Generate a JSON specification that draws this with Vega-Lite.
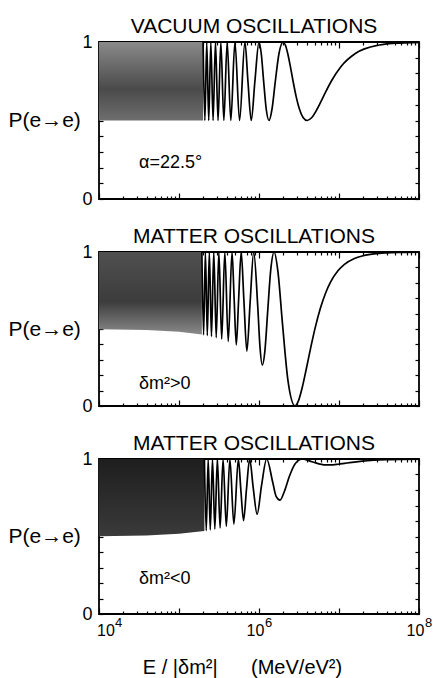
{
  "$schema": "https://vega.github.io/schema/vega-lite/v6.json",
  "padding": {"left": 7, "top": 15, "right": 2, "bottom": 2},
  "spacing": 53,
  "bounds": "flush",
  "background": "white",
  "config": {
    "view": {"stroke": "black", "strokeWidth": 1.8},
    "axis": {"grid": false, "domain": false, "labelFont": "Liberation Sans", "titleFont": "Liberation Sans", "labelColor": "black", "titleColor": "black", "tickColor": "black", "tickWidth": 1.2, "labelFlush": false, "labelOverlap": false, "titleFontWeight": "normal"},
    "title": {"font": "Liberation Sans", "fontSize": 21, "fontWeight": "normal", "color": "black", "baseline": "alphabetic", "offset": -4, "dx": -5},
    "text": {"font": "Liberation Sans", "fontSize": 18, "color": "black"}
  },
  "datasets": {
    "vacBand": [{"E": 10000, "P": 0.5}, {"E": 200000, "P": 0.5}],
    "mpBand": [{"E": 10000, "P": 0.498}, {"E": 39000, "P": 0.493}, {"E": 100000, "P": 0.4815}, {"E": 193100, "P": 0.464}],
    "mmBand": [{"E": 10000, "P": 0.5017}, {"E": 39000, "P": 0.507}, {"E": 100000, "P": 0.5177}, {"E": 207700, "P": 0.536}],
    "vac": [
      {"E": 200000, "P": 1}, {"E": 210526, "P": 0.5}, {"E": 222222, "P": 1}, {"E": 235294, "P": 0.5},
      {"E": 250000, "P": 1}, {"E": 266667, "P": 0.5}, {"E": 285714, "P": 1}, {"E": 307692, "P": 0.5},
      {"E": 333333, "P": 1}, {"E": 363636, "P": 0.5}, {"E": 400000, "P": 1}, {"E": 444444, "P": 0.5},
      {"E": 500000, "P": 1}, {"E": 571429, "P": 0.5}, {"E": 666667, "P": 1}, {"E": 727273, "P": 0.75},
      {"E": 800000, "P": 0.5}, {"E": 888889, "P": 0.75}, {"E": 1000000, "P": 1}, {"E": 1066667, "P": 0.9268},
      {"E": 1142857, "P": 0.75}, {"E": 1230769, "P": 0.5732}, {"E": 1333333, "P": 0.5}, {"E": 1454545, "P": 0.5732},
      {"E": 1600000, "P": 0.75}, {"E": 1777778, "P": 0.9268}, {"E": 2000000, "P": 1}, {"E": 2133333, "P": 0.981},
      {"E": 2285714, "P": 0.9268}, {"E": 2461538, "P": 0.846}, {"E": 2666667, "P": 0.75}, {"E": 2909091, "P": 0.654},
      {"E": 3200000, "P": 0.5732}, {"E": 3555556, "P": 0.519}, {"E": 4000000, "P": 0.5}, {"E": 4571429, "P": 0.519},
      {"E": 5333333, "P": 0.5732}, {"E": 6400000, "P": 0.654}, {"E": 8000000, "P": 0.75}, {"E": 10666667, "P": 0.846},
      {"E": 16000000, "P": 0.9268}, {"E": 32000000, "P": 0.981}, {"E": 50000000, "P": 0.9921}, {"E": 100000000, "P": 0.998}
    ],
    "mp": [
      {"E": 193100, "P": 1}, {"E": 202900, "P": 0.4619}, {"E": 213800, "P": 1}, {"E": 225800, "P": 0.4574},
      {"E": 239400, "P": 1}, {"E": 254600, "P": 0.4517}, {"E": 272000, "P": 1}, {"E": 291900, "P": 0.4443},
      {"E": 314900, "P": 1}, {"E": 341800, "P": 0.4342}, {"E": 373900, "P": 1}, {"E": 412500, "P": 0.4197},
      {"E": 460200, "P": 1}, {"E": 488400, "P": 0.7019}, {"E": 520300, "P": 0.397}, {"E": 556700, "P": 0.6946},
      {"E": 598700, "P": 1}, {"E": 647500, "P": 0.6847}, {"E": 705200, "P": 0.3565}, {"E": 774200, "P": 0.6705},
      {"E": 858600, "P": 1}, {"E": 964000, "P": 0.6487}, {"E": 1027400, "P": 0.3876}, {"E": 1100000, "P": 0.2655},
      {"E": 1184200, "P": 0.3561}, {"E": 1283000, "P": 0.6112}, {"E": 1401000, "P": 0.8821}, {"E": 1545000, "P": 1},
      {"E": 1725900, "P": 0.8716}, {"E": 1962700, "P": 0.5385}, {"E": 2295200, "P": 0.17}, {"E": 2821000, "P": 0.0009},
      {"E": 3120000, "P": 0.0349}, {"E": 3510000, "P": 0.1304}, {"E": 3900000, "P": 0.2403}, {"E": 4485000, "P": 0.3918},
      {"E": 5070000, "P": 0.5137}, {"E": 5850000, "P": 0.634}, {"E": 6825000, "P": 0.7353}, {"E": 7800000, "P": 0.8021},
      {"E": 9750000, "P": 0.8794}, {"E": 11700000, "P": 0.9199}, {"E": 15600000, "P": 0.9579}, {"E": 19500000, "P": 0.9743},
      {"E": 27300000, "P": 0.9877}, {"E": 39000000, "P": 0.9943}, {"E": 58500000, "P": 0.9976}, {"E": 100000000, "P": 0.9992}
    ],
    "mm": [
      {"E": 207700, "P": 1}, {"E": 219000, "P": 0.5381}, {"E": 231700, "P": 1}, {"E": 246000, "P": 0.5426},
      {"E": 262100, "P": 1}, {"E": 280500, "P": 0.5483}, {"E": 301700, "P": 1}, {"E": 326400, "P": 0.5557},
      {"E": 355400, "P": 1}, {"E": 390200, "P": 0.5658}, {"E": 432500, "P": 1}, {"E": 485100, "P": 0.5803},
      {"E": 552300, "P": 1}, {"E": 593400, "P": 0.7981}, {"E": 641300, "P": 0.603}, {"E": 697500, "P": 0.8054},
      {"E": 764700, "P": 1}, {"E": 846200, "P": 0.8153}, {"E": 947400, "P": 0.6435}, {"E": 1076000, "P": 0.8295},
      {"E": 1247000, "P": 1}, {"E": 1482000, "P": 0.8513}, {"E": 1637000, "P": 0.7589}, {"E": 1830000, "P": 0.7345},
      {"E": 2075000, "P": 0.7903}, {"E": 2399000, "P": 0.8888}, {"E": 2847000, "P": 0.9715}, {"E": 3512000, "P": 1},
      {"E": 4611000, "P": 0.982}, {"E": 6804000, "P": 0.9616}, {"E": 7800000, "P": 0.9616}, {"E": 9750000, "P": 0.9661},
      {"E": 11700000, "P": 0.9717}, {"E": 13650000, "P": 0.9766}, {"E": 19500000, "P": 0.9861}, {"E": 27300000, "P": 0.992},
      {"E": 39000000, "P": 0.9958}, {"E": 58500000, "P": 0.998}, {"E": 100000000, "P": 0.9993}
    ]
  },
  "vconcat": [
    {
      "width": 320, "height": 157,
      "title": {"text": "VACUUM OSCILLATIONS"},
      "layer": [
        {
          "data": {"name": "vacBand"},
          "mark": {"type": "area", "color": {"gradient": "linear", "x1": 0, "y1": 0, "x2": 0, "y2": 1, "stops": [{"offset": 0, "color": "#8a8a8a"}, {"offset": 0.6, "color": "#4a4a4a"}, {"offset": 1, "color": "#6e6e6e"}]}},
          "encoding": {
            "x": {"field": "E", "type": "quantitative", "scale": {"type": "log", "domain": [10000, 100000000], "nice": false},
                  "axis": {"orient": "bottom", "values": [10000,20000,30000,40000,50000,60000,70000,80000,90000,100000,200000,300000,400000,500000,600000,700000,800000,900000,1000000,2000000,3000000,4000000,5000000,6000000,7000000,8000000,9000000,10000000,20000000,30000000,40000000,50000000,60000000,70000000,80000000,90000000,100000000],
                           "tickSize": {"condition": {"test": "indexof([10000,100000,1000000,10000000,100000000], datum.value) >= 0", "value": -6}, "value": -3}, "labels": false, "title": null}},
            "y": {"field": "P", "type": "quantitative", "scale": {"domain": [0, 1], "nice": false},
                  "axis": {"orient": "left", "values": [0,0.1,0.2,0.3,0.4,0.5,0.6,0.7,0.8,0.9,1], "tickSize": -4, "labelExpr": "datum.value == 0 ? '0' : datum.value == 1 ? '1' : ''", "labelFontSize": 18, "labelPadding": 11,
                           "title": "P(e→e)", "titleAngle": 0, "titleAlign": "left", "titleBaseline": "middle", "titleX": -91, "titleY": 78, "titleFontSize": 21}},
            "y2": {"datum": 1}
          }
        },
        {
          "data": {"name": "vac"},
          "mark": {"type": "line", "color": "black", "strokeWidth": 1.7, "interpolate": "monotone"},
          "encoding": {
            "x": {"field": "E", "type": "quantitative", "scale": {"type": "log", "domain": [10000, 100000000], "nice": false},
                  "axis": {"orient": "top", "values": [10000,20000,30000,40000,50000,60000,70000,80000,90000,100000,200000,300000,400000,500000,600000,700000,800000,900000,1000000,2000000,3000000,4000000,5000000,6000000,7000000,8000000,9000000,10000000,20000000,30000000,40000000,50000000,60000000,70000000,80000000,90000000,100000000],
                           "tickSize": {"condition": {"test": "indexof([10000,100000,1000000,10000000,100000000], datum.value) >= 0", "value": -6}, "value": -3}, "labels": false, "title": null}},
            "y": {"field": "P", "type": "quantitative", "scale": {"domain": [0, 1], "nice": false},
                  "axis": {"orient": "right", "values": [0,0.1,0.2,0.3,0.4,0.5,0.6,0.7,0.8,0.9,1], "tickSize": -4, "labels": false, "title": null}}
          }
        },
        {
          "data": {"values": [{"label": "α=22.5°", "E": 31623, "P": 0.2}]},
          "mark": {"type": "text", "align": "left", "baseline": "alphabetic"},
          "encoding": {
            "x": {"field": "E", "type": "quantitative", "scale": {"type": "log", "domain": [10000, 100000000], "nice": false}, "axis": null},
            "y": {"field": "P", "type": "quantitative", "scale": {"domain": [0, 1], "nice": false}, "axis": null},
            "text": {"field": "label"}
          }
        }
      ],
      "resolve": {"axis": {"x": "independent", "y": "independent"}}
    },
    {
      "width": 320, "height": 154,
      "title": {"text": "MATTER OSCILLATIONS"},
      "layer": [
        {
          "data": {"name": "mpBand"},
          "mark": {"type": "area", "color": {"gradient": "linear", "x1": 0, "y1": 0, "x2": 0, "y2": 1, "stops": [{"offset": 0, "color": "#505050"}, {"offset": 0.6, "color": "#3c3c3c"}, {"offset": 1, "color": "#8a8a8a"}]}},
          "encoding": {
            "x": {"field": "E", "type": "quantitative", "scale": {"type": "log", "domain": [10000, 100000000], "nice": false},
                  "axis": {"orient": "bottom", "values": [10000,20000,30000,40000,50000,60000,70000,80000,90000,100000,200000,300000,400000,500000,600000,700000,800000,900000,1000000,2000000,3000000,4000000,5000000,6000000,7000000,8000000,9000000,10000000,20000000,30000000,40000000,50000000,60000000,70000000,80000000,90000000,100000000],
                           "tickSize": {"condition": {"test": "indexof([10000,100000,1000000,10000000,100000000], datum.value) >= 0", "value": -6}, "value": -3}, "labels": false, "title": null}},
            "y": {"field": "P", "type": "quantitative", "scale": {"domain": [0, 1], "nice": false},
                  "axis": {"orient": "left", "values": [0,0.1,0.2,0.3,0.4,0.5,0.6,0.7,0.8,0.9,1], "tickSize": -4, "labelExpr": "datum.value == 0 ? '0' : datum.value == 1 ? '1' : ''", "labelFontSize": 18, "labelPadding": 11,
                           "title": "P(e→e)", "titleAngle": 0, "titleAlign": "left", "titleBaseline": "middle", "titleX": -91, "titleY": 77, "titleFontSize": 21}},
            "y2": {"datum": 1}
          }
        },
        {
          "data": {"name": "mp"},
          "mark": {"type": "line", "color": "black", "strokeWidth": 1.7, "interpolate": "monotone"},
          "encoding": {
            "x": {"field": "E", "type": "quantitative", "scale": {"type": "log", "domain": [10000, 100000000], "nice": false},
                  "axis": {"orient": "top", "values": [10000,20000,30000,40000,50000,60000,70000,80000,90000,100000,200000,300000,400000,500000,600000,700000,800000,900000,1000000,2000000,3000000,4000000,5000000,6000000,7000000,8000000,9000000,10000000,20000000,30000000,40000000,50000000,60000000,70000000,80000000,90000000,100000000],
                           "tickSize": {"condition": {"test": "indexof([10000,100000,1000000,10000000,100000000], datum.value) >= 0", "value": -6}, "value": -3}, "labels": false, "title": null}},
            "y": {"field": "P", "type": "quantitative", "scale": {"domain": [0, 1], "nice": false},
                  "axis": {"orient": "right", "values": [0,0.1,0.2,0.3,0.4,0.5,0.6,0.7,0.8,0.9,1], "tickSize": -4, "labels": false, "title": null}}
          }
        },
        {
          "data": {"values": [{"label": "δm²>0", "E": 31623, "P": 0.11}]},
          "mark": {"type": "text", "align": "left", "baseline": "alphabetic"},
          "encoding": {
            "x": {"field": "E", "type": "quantitative", "scale": {"type": "log", "domain": [10000, 100000000], "nice": false}, "axis": null},
            "y": {"field": "P", "type": "quantitative", "scale": {"domain": [0, 1], "nice": false}, "axis": null},
            "text": {"field": "label"}
          }
        }
      ],
      "resolve": {"axis": {"x": "independent", "y": "independent"}}
    },
    {
      "width": 320, "height": 155,
      "title": {"text": "MATTER OSCILLATIONS"},
      "layer": [
        {
          "data": {"name": "mmBand"},
          "mark": {"type": "area", "color": {"gradient": "linear", "x1": 0, "y1": 0, "x2": 0, "y2": 1, "stops": [{"offset": 0, "color": "#1e1e1e"}, {"offset": 1, "color": "#3a3a3a"}]}},
          "encoding": {
            "x": {"field": "E", "type": "quantitative", "scale": {"type": "log", "domain": [10000, 100000000], "nice": false},
                  "axis": {"orient": "bottom", "values": [10000,20000,30000,40000,50000,60000,70000,80000,90000,100000,200000,300000,400000,500000,600000,700000,800000,900000,1000000,2000000,3000000,4000000,5000000,6000000,7000000,8000000,9000000,10000000,20000000,30000000,40000000,50000000,60000000,70000000,80000000,90000000,100000000],
                           "tickSize": {"condition": {"test": "indexof([10000,100000,1000000,10000000,100000000], datum.value) >= 0", "value": -6}, "value": -3}, "labels": false, "title": null}},
            "y": {"field": "P", "type": "quantitative", "scale": {"domain": [0, 1], "nice": false},
                  "axis": {"orient": "left", "values": [0,0.1,0.2,0.3,0.4,0.5,0.6,0.7,0.8,0.9,1], "tickSize": -4, "labelExpr": "datum.value == 0 ? '0' : datum.value == 1 ? '1' : ''", "labelFontSize": 18, "labelPadding": 11,
                           "title": "P(e→e)", "titleAngle": 0, "titleAlign": "left", "titleBaseline": "middle", "titleX": -91, "titleY": 77, "titleFontSize": 21}},
            "y2": {"datum": 1}
          }
        },
        {
          "data": {"name": "mm"},
          "mark": {"type": "line", "color": "black", "strokeWidth": 1.7, "interpolate": "monotone"},
          "encoding": {
            "x": {"field": "E", "type": "quantitative", "scale": {"type": "log", "domain": [10000, 100000000], "nice": false},
                  "axis": {"orient": "top", "values": [10000,20000,30000,40000,50000,60000,70000,80000,90000,100000,200000,300000,400000,500000,600000,700000,800000,900000,1000000,2000000,3000000,4000000,5000000,6000000,7000000,8000000,9000000,10000000,20000000,30000000,40000000,50000000,60000000,70000000,80000000,90000000,100000000],
                           "tickSize": {"condition": {"test": "indexof([10000,100000,1000000,10000000,100000000], datum.value) >= 0", "value": -6}, "value": -3}, "labels": false, "title": null}},
            "y": {"field": "P", "type": "quantitative", "scale": {"domain": [0, 1], "nice": false},
                  "axis": {"orient": "right", "values": [0,0.1,0.2,0.3,0.4,0.5,0.6,0.7,0.8,0.9,1], "tickSize": -4, "labels": false, "title": null}}
          }
        },
        {
          "data": {"values": [{"label": "δm²<0", "E": 31623, "P": 0.194}]},
          "mark": {"type": "text", "align": "left", "baseline": "alphabetic"},
          "encoding": {
            "x": {"field": "E", "type": "quantitative", "scale": {"type": "log", "domain": [10000, 100000000], "nice": false},
                  "axis": {"orient": "bottom", "values": [10000, 1000000, 100000000], "ticks": false, "domain": false, "labelExpr": "'10'", "labelFontSize": 16, "labelBaseline": "alphabetic", "labelPadding": 21,
                           "labelOffset": {"condition": {"test": "datum.value == 10000", "value": 6.5}, "value": -4},
                           "title": "E / |δm²|\u00a0\u00a0\u00a0\u00a0\u00a0\u00a0(MeV/eV²)", "titleFontSize": 20, "titleX": 143, "titleY": 59, "titleBaseline": "alphabetic", "titleAlign": "center", "titleAnchor": null}},
            "y": {"field": "P", "type": "quantitative", "scale": {"domain": [0, 1], "nice": false}, "axis": null},
            "text": {"field": "label"}
          }
        },
        {
          "data": {"values": [{"label": "δm²<0", "E": 31623, "P": 0.194}]},
          "mark": {"type": "text", "text": "", "opacity": 0},
          "encoding": {
            "x": {"field": "E", "type": "quantitative", "scale": {"type": "log", "domain": [10000, 100000000], "nice": false},
                  "axis": {"orient": "bottom", "values": [10000, 1000000, 100000000], "ticks": false, "domain": false, "labelExpr": "datum.value == 10000 ? '4' : datum.value == 1000000 ? '6' : '8'", "labelFontSize": 13, "labelBaseline": "alphabetic", "labelPadding": 12,
                           "labelOffset": {"condition": {"test": "datum.value == 10000", "value": 19}, "value": 9}, "title": null}},
            "y": {"field": "P", "type": "quantitative", "scale": {"domain": [0, 1], "nice": false}, "axis": null}
          }
        }
      ],
      "resolve": {"axis": {"x": "independent", "y": "independent"}}
    }
  ]
}
